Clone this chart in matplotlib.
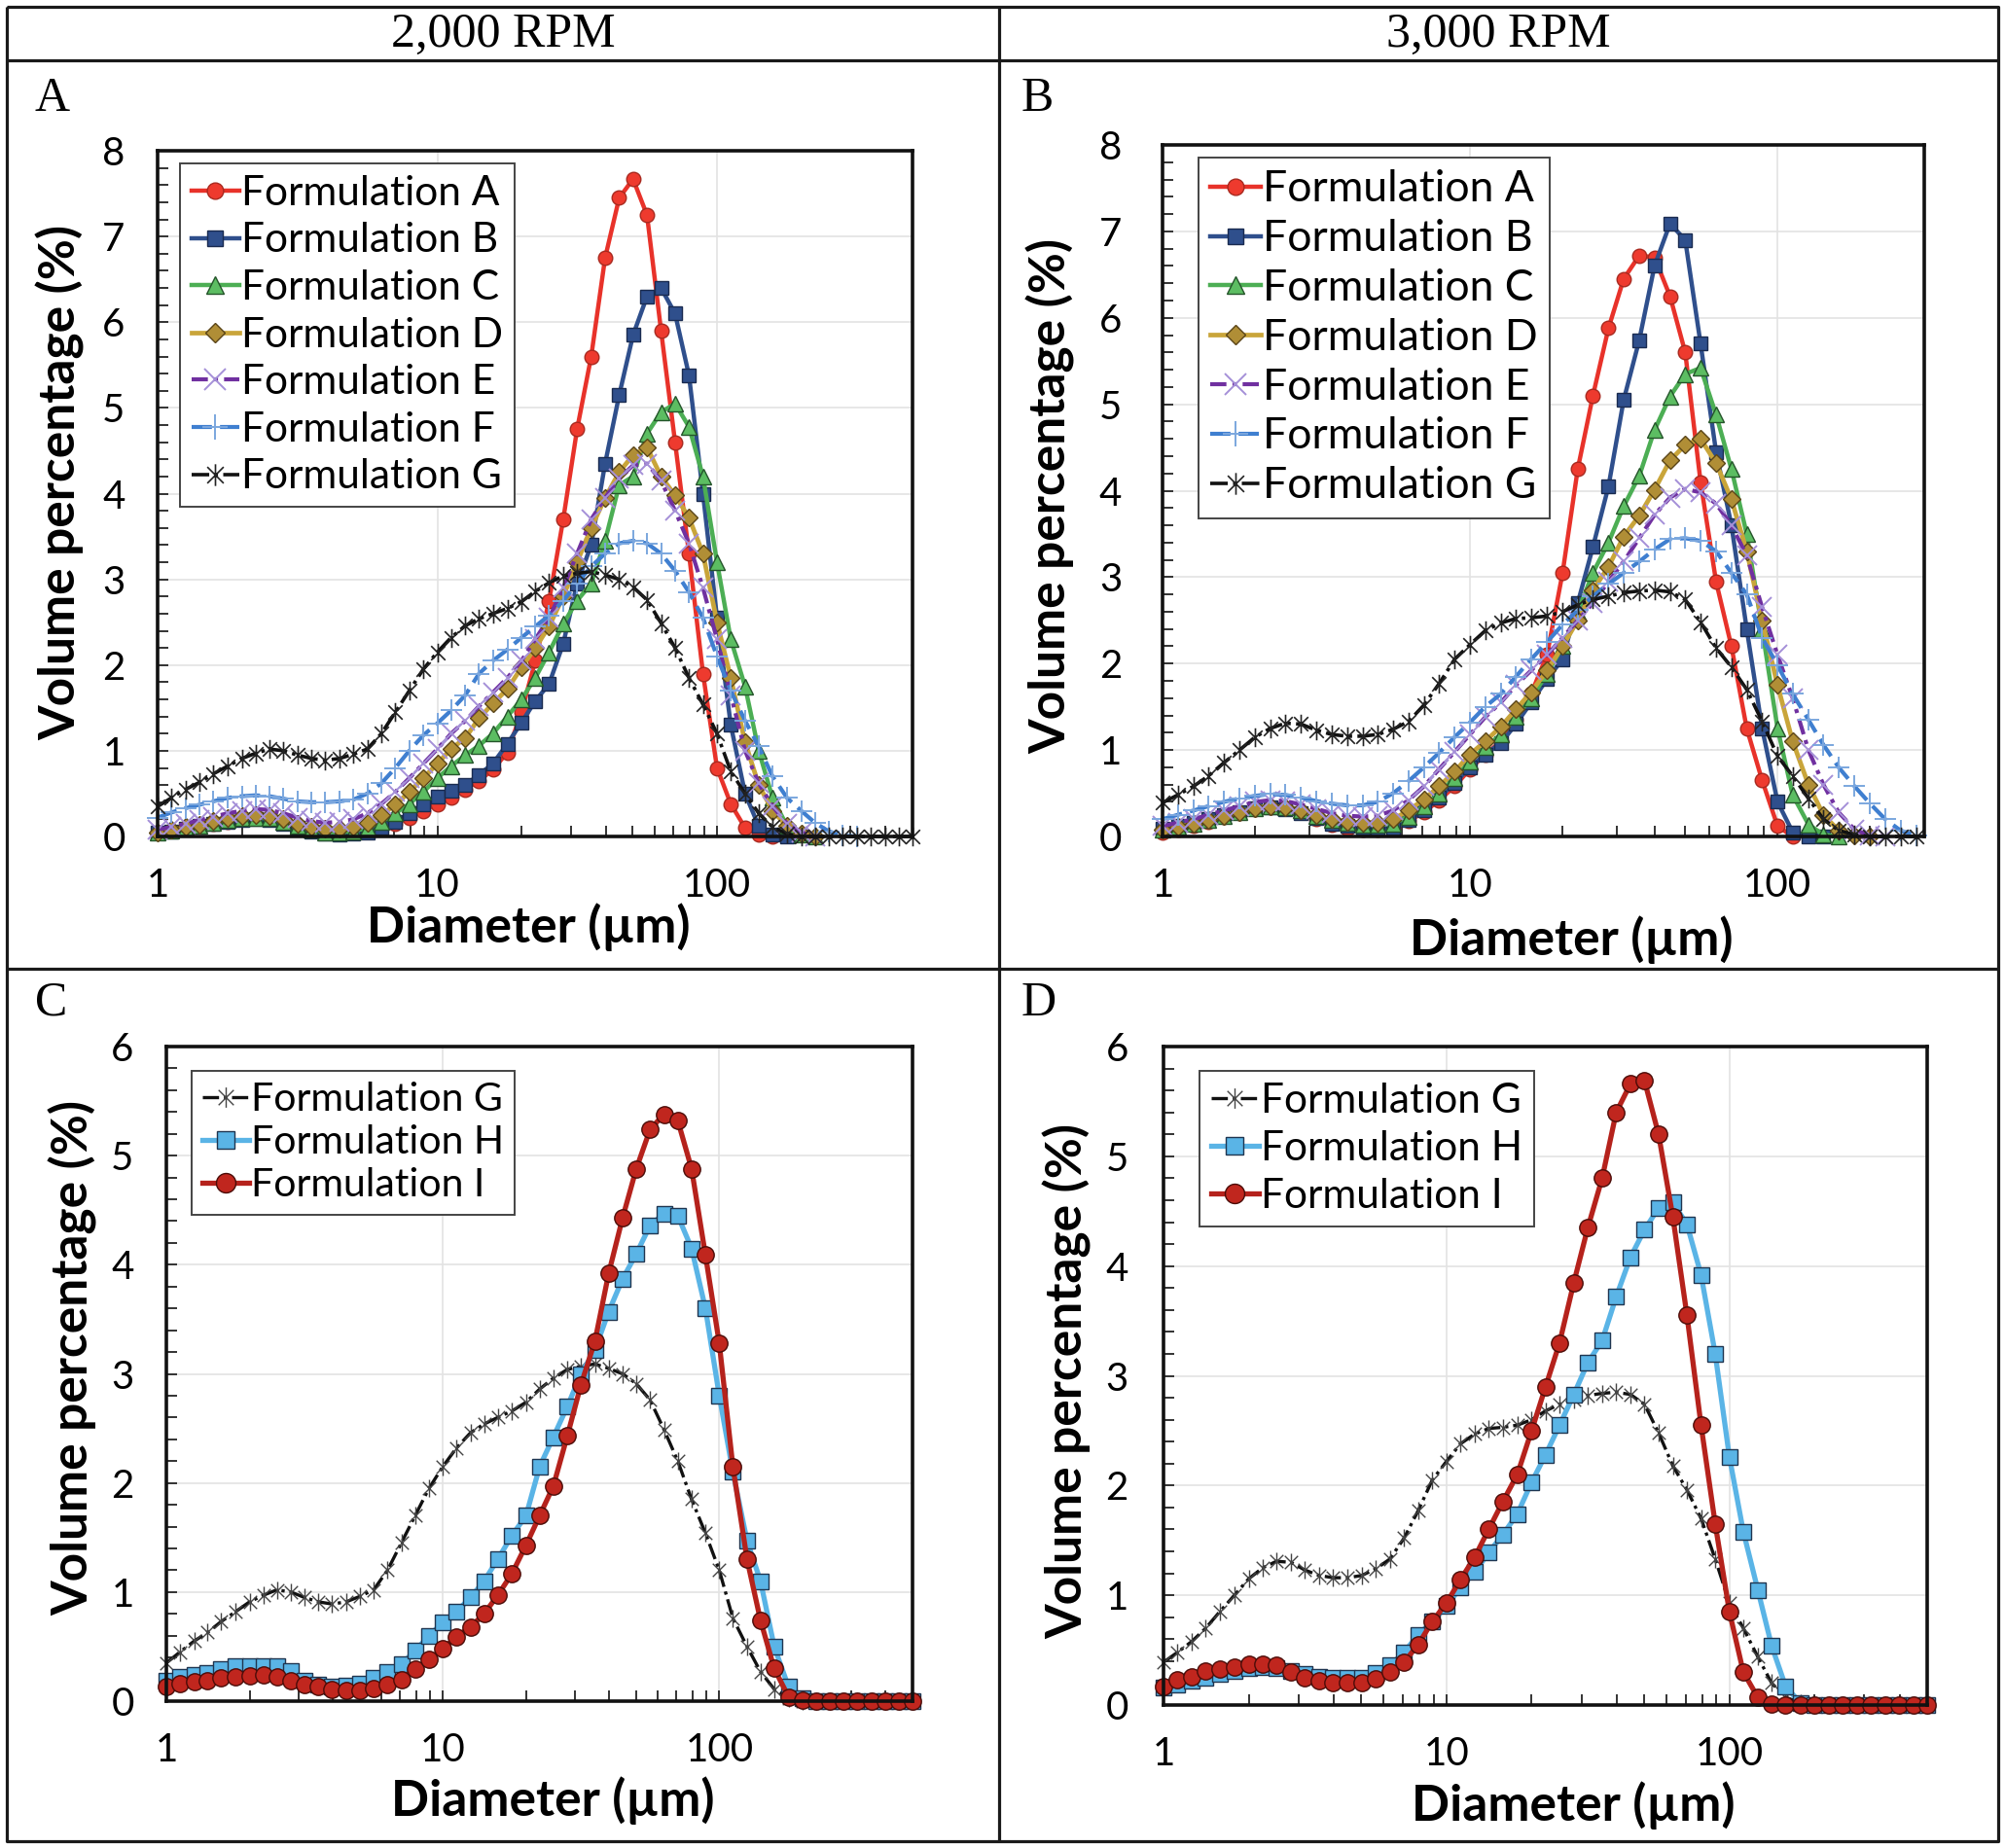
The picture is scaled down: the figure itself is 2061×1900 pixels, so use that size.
import numpy as np
import matplotlib
matplotlib.use("Agg")
import matplotlib.pyplot as plt
from matplotlib.path import Path
from matplotlib.ticker import FixedLocator, MultipleLocator, LogLocator, NullFormatter, FuncFormatter

# particle diameter bins (um)
X = [1.0, 1.12, 1.26, 1.41, 1.58, 1.78, 2.0, 2.24, 2.51, 2.82,
     3.16, 3.55, 3.98, 4.47, 5.01, 5.62, 6.31, 7.08, 7.94, 8.91,
     10.0, 11.2, 12.6, 14.1, 15.8, 17.8, 20.0, 22.4, 25.1, 28.2,
     31.6, 35.5, 39.8, 44.7, 50.1, 56.2, 63.1, 70.8, 79.4, 89.1,
     100, 112, 126, 141, 158, 178, 200, 224, 251, 282,
     316, 355, 398, 447, 501]

# 2,000 RPM, volume percentage (%)
a2_A = [0.05, 0.07, 0.10, 0.12, 0.15, 0.17, 0.20, 0.21, 0.20, 0.17,
        0.12, 0.08, 0.05, 0.04, 0.04, 0.06, 0.10, 0.15, 0.22, 0.30,
        0.38, 0.45, 0.55, 0.65, 0.78, 0.98, 1.45, 2.05, 2.75, 3.70,
        4.75, 5.60, 6.75, 7.45, 7.67, 7.25, 5.90, 4.60, 3.30, 1.90,
        0.80, 0.38, 0.10, 0.02, 0.00]
a2_B = [0.04, 0.06, 0.09, 0.12, 0.15, 0.17, 0.19, 0.20, 0.19, 0.15,
        0.10, 0.06, 0.03, 0.02, 0.03, 0.05, 0.10, 0.17, 0.27, 0.38,
        0.47, 0.53, 0.60, 0.72, 0.85, 1.08, 1.33, 1.58, 1.78, 2.25,
        2.95, 3.40, 4.35, 5.15, 5.85, 6.30, 6.40, 6.10, 5.38, 4.00,
        2.55, 1.30, 0.50, 0.12, 0.02, 0.00]
a2_C = [0.05, 0.07, 0.10, 0.13, 0.16, 0.19, 0.21, 0.22, 0.21, 0.17,
        0.12, 0.08, 0.05, 0.05, 0.06, 0.10, 0.17, 0.27, 0.38, 0.52,
        0.68, 0.82, 0.95, 1.06, 1.20, 1.40, 1.60, 1.85, 2.15, 2.48,
        2.75, 2.95, 3.45, 4.10, 4.20, 4.70, 4.95, 5.05, 4.78, 4.20,
        3.20, 2.30, 1.75, 1.00, 0.45, 0.12, 0.02, 0.00]
a2_D = [0.05, 0.08, 0.11, 0.14, 0.18, 0.21, 0.24, 0.25, 0.24, 0.20,
        0.15, 0.11, 0.09, 0.09, 0.11, 0.16, 0.25, 0.37, 0.52, 0.68,
        0.85, 1.02, 1.15, 1.38, 1.55, 1.72, 1.97, 2.20, 2.45, 2.80,
        3.20, 3.60, 3.95, 4.25, 4.45, 4.54, 4.20, 3.98, 3.72, 3.30,
        2.50, 1.85, 1.10, 0.60, 0.30, 0.12, 0.03, 0.00]
a2_E = [0.08, 0.11, 0.15, 0.19, 0.23, 0.27, 0.30, 0.32, 0.31, 0.27,
        0.22, 0.18, 0.16, 0.17, 0.20, 0.27, 0.38, 0.52, 0.68, 0.85,
        1.02, 1.20, 1.35, 1.52, 1.68, 1.85, 2.05, 2.30, 2.55, 2.90,
        3.30, 3.70, 3.95, 4.18, 4.33, 4.35, 4.15, 3.80, 3.42, 2.90,
        2.30, 1.65, 1.00, 0.62, 0.35, 0.15, 0.05, 0.00]
a2_F = [0.22, 0.28, 0.33, 0.37, 0.41, 0.45, 0.47, 0.48, 0.47, 0.44,
        0.41, 0.40, 0.40, 0.41, 0.43, 0.50, 0.62, 0.80, 1.00, 1.18,
        1.32, 1.47, 1.65, 1.90, 2.05, 2.18, 2.32, 2.45, 2.58, 2.75,
        2.95, 3.15, 3.30, 3.42, 3.45, 3.42, 3.30, 3.10, 2.85, 2.55,
        2.10, 1.70, 1.35, 1.05, 0.70, 0.45, 0.30, 0.16, 0.06, 0.01,
        0.00]
g2 = [0.35, 0.45, 0.55, 0.63, 0.73, 0.82, 0.91, 0.97, 1.02, 1.00,
      0.95, 0.91, 0.89, 0.91, 0.96, 1.02, 1.20, 1.45, 1.70, 1.95,
      2.15, 2.32, 2.46, 2.54, 2.60, 2.66, 2.74, 2.86, 2.96, 3.04,
      3.07, 3.09, 3.05, 3.00, 2.91, 2.76, 2.49, 2.20, 1.85, 1.54,
      1.20, 0.76, 0.50, 0.27, 0.11, 0.03, 0.00, 0.00, 0.00, 0.00,
      0.00, 0.00, 0.00, 0.00, 0.00]
h2 = [0.19, 0.22, 0.24, 0.26, 0.29, 0.32, 0.32, 0.32, 0.32, 0.28,
      0.19, 0.15, 0.13, 0.14, 0.16, 0.21, 0.27, 0.34, 0.46, 0.60,
      0.72, 0.82, 0.95, 1.10, 1.30, 1.52, 1.70, 2.15, 2.42, 2.70,
      3.00, 3.22, 3.57, 3.87, 4.10, 4.36, 4.47, 4.45, 4.15, 3.60,
      2.80, 2.10, 1.47, 1.10, 0.50, 0.13, 0.03, 0.00, 0.00, 0.00,
      0.00, 0.00, 0.00, 0.00, 0.00]
i2 = [0.13, 0.16, 0.18, 0.19, 0.21, 0.22, 0.23, 0.24, 0.22, 0.19,
      0.15, 0.13, 0.11, 0.10, 0.10, 0.12, 0.15, 0.20, 0.29, 0.38,
      0.48, 0.59, 0.68, 0.80, 0.97, 1.17, 1.43, 1.70, 1.97, 2.43,
      2.90, 3.30, 3.92, 4.43, 4.88, 5.24, 5.38, 5.32, 4.88, 4.09,
      3.28, 2.15, 1.30, 0.74, 0.30, 0.04, 0.01, 0.00, 0.00, 0.00,
      0.00, 0.00, 0.00, 0.00, 0.00]

# 3,000 RPM
a3_A = [0.05, 0.08, 0.12, 0.17, 0.22, 0.27, 0.32, 0.34, 0.33, 0.28,
        0.20, 0.13, 0.09, 0.08, 0.08, 0.10, 0.18, 0.28, 0.42, 0.58,
        0.78, 0.95, 1.10, 1.35, 1.65, 2.10, 3.05, 4.25, 5.10, 5.88,
        6.45, 6.72, 6.70, 6.25, 5.60, 4.10, 2.95, 2.20, 1.25, 0.65,
        0.12, 0.00]
a3_B = [0.09, 0.12, 0.16, 0.20, 0.25, 0.28, 0.33, 0.34, 0.32, 0.27,
        0.21, 0.15, 0.12, 0.10, 0.09, 0.09, 0.19, 0.30, 0.45, 0.62,
        0.80, 0.95, 1.08, 1.30, 1.55, 1.82, 2.05, 2.70, 3.35, 4.05,
        5.05, 5.74, 6.60, 7.09, 6.90, 5.70, 4.45, 3.60, 2.40, 1.25,
        0.40, 0.05, 0.00, 0.00]
a3_C = [0.08, 0.11, 0.15, 0.19, 0.24, 0.28, 0.33, 0.35, 0.34, 0.30,
        0.24, 0.19, 0.16, 0.14, 0.13, 0.15, 0.23, 0.35, 0.50, 0.68,
        0.87, 1.03, 1.18, 1.38, 1.60, 1.88, 2.20, 2.60, 3.05, 3.40,
        3.82, 4.17, 4.70, 5.09, 5.35, 5.42, 4.88, 4.25, 3.50, 2.40,
        1.25, 0.48, 0.14, 0.02, 0.00]
a3_D = [0.08, 0.11, 0.15, 0.19, 0.24, 0.28, 0.33, 0.35, 0.34, 0.30,
        0.25, 0.20, 0.17, 0.16, 0.16, 0.20, 0.30, 0.43, 0.58, 0.75,
        0.95, 1.10, 1.27, 1.47, 1.67, 1.92, 2.20, 2.50, 2.85, 3.12,
        3.47, 3.71, 4.01, 4.35, 4.53, 4.60, 4.32, 3.90, 3.30, 2.50,
        1.75, 1.10, 0.60, 0.25, 0.07, 0.01, 0.00]
a3_E = [0.12, 0.16, 0.20, 0.25, 0.30, 0.35, 0.40, 0.42, 0.41, 0.37,
        0.32, 0.27, 0.24, 0.23, 0.24, 0.30, 0.42, 0.58, 0.78, 0.98,
        1.18, 1.38, 1.55, 1.75, 1.92, 2.10, 2.30, 2.50, 2.70, 2.95,
        3.18, 3.45, 3.72, 3.92, 4.02, 3.98, 3.85, 3.60, 3.25, 2.65,
        2.10, 1.60, 1.00, 0.60, 0.28, 0.08, 0.01, 0.00]
a3_F = [0.20, 0.25, 0.30, 0.35, 0.40, 0.44, 0.47, 0.49, 0.48, 0.45,
        0.41, 0.38, 0.36, 0.36, 0.40, 0.50, 0.64, 0.80, 0.97, 1.15,
        1.32, 1.50, 1.65, 1.85, 2.05, 2.25, 2.45, 2.62, 2.78, 2.92,
        3.05, 3.18, 3.32, 3.44, 3.45, 3.42, 3.30, 3.05, 2.80, 2.30,
        1.98, 1.65, 1.35, 1.06, 0.80, 0.58, 0.38, 0.20, 0.07, 0.01]
g3 = [0.39, 0.48, 0.58, 0.70, 0.85, 1.00, 1.15, 1.25, 1.31, 1.30,
      1.23, 1.18, 1.16, 1.16, 1.18, 1.24, 1.33, 1.52, 1.77, 2.05,
      2.22, 2.38, 2.47, 2.52, 2.53, 2.55, 2.60, 2.68, 2.74, 2.78,
      2.82, 2.84, 2.85, 2.83, 2.74, 2.48, 2.18, 1.96, 1.70, 1.33,
      0.93, 0.70, 0.44, 0.20, 0.07, 0.02, 0.00, 0.00, 0.00, 0.00,
      0.00, 0.00, 0.00, 0.00, 0.00]
h3 = [0.16, 0.19, 0.22, 0.25, 0.28, 0.31, 0.34, 0.35, 0.34, 0.31,
      0.28, 0.26, 0.25, 0.25, 0.25, 0.29, 0.36, 0.48, 0.64, 0.76,
      0.90, 1.07, 1.21, 1.39, 1.55, 1.74, 2.03, 2.28, 2.55, 2.83,
      3.12, 3.32, 3.72, 4.08, 4.33, 4.53, 4.58, 4.38, 3.92, 3.20,
      2.26, 1.58, 1.05, 0.54, 0.17, 0.02, 0.00, 0.00, 0.00, 0.00,
      0.00, 0.00, 0.00, 0.00, 0.00]
i3 = [0.17, 0.23, 0.26, 0.31, 0.33, 0.35, 0.37, 0.37, 0.36, 0.30,
      0.25, 0.22, 0.20, 0.20, 0.20, 0.24, 0.30, 0.39, 0.55, 0.76,
      0.93, 1.14, 1.35, 1.60, 1.85, 2.10, 2.50, 2.90, 3.30, 3.85,
      4.35, 4.80, 5.40, 5.66, 5.69, 5.20, 4.45, 3.55, 2.55, 1.65,
      0.85, 0.30, 0.07, 0.01, 0.00, 0.00, 0.00, 0.00, 0.00, 0.00,
      0.00, 0.00, 0.00, 0.00, 0.00]

# excel style asterisk marker: an X with a vertical bar
ASTER = Path([(0, -1), (0, 1), (-0.75, -0.75), (0.75, 0.75), (-0.75, 0.75), (0.75, -0.75)],
             [Path.MOVETO, Path.LINETO] * 3)

STYLE = {
    "A": dict(color="#e8322a", ls="-", lw=3.2, marker="o", ms=10.5, mfc="#ee3a2e", mec="#a82a20", mew=1.0),
    "B": dict(color="#2f4f8c", ls="-", lw=3.2, marker="s", ms=10, mfc="#2f4f8c", mec="#1a2b50", mew=1.0),
    "C": dict(color="#4cae54", ls="-", lw=3.2, marker="^", ms=11.5, mfc="#5cbd62", mec="#24542a", mew=1.0),
    "D": dict(color="#c9a53a", ls="-", lw=3.4, marker="D", ms=9, mfc="#b08e36", mec="#5a4518", mew=1.0),
    "E": dict(color="#7030a0", ls=(0, (4, 1.5, 1, 1.5)), lw=3.0, marker="x", ms=14, mec="#a590d8", mew=1.4),
    "F": dict(color="#3f7fd0", ls=(0, (5, 2)), lw=3.0, marker="+", ms=16, mec="#7ba7de", mew=1.4),
    "G": dict(color="#111111", ls=(0, (5, 1.5, 1, 1.5)), lw=2.6, marker=ASTER, ms=14, mec="#222222", mew=1.2),
}
STYLE_CD = {
    "G": dict(color="#111111", ls=(0, (5, 1.5, 1, 1.5)), lw=2.4, marker=ASTER, ms=13, mec="#444444", mew=1.0),
    "H": dict(color="#5ab4e6", ls="-", lw=3.8, marker="s", ms=11.5, mfc="#5ab4e6", mec="#1f3550", mew=1.0),
    "I": dict(color="#b5221c", ls="-", lw=3.8, marker="o", ms=12.5, mfc="#c0261e", mec="#4a0c08", mew=1.0),
}

W, H = 2061, 1900
plt.rcParams["font.family"] = ["Lato", "DejaVu Sans"]
fig = plt.figure(figsize=(W / 100, H / 100), dpi=100)

# table grid behind everything
bg = fig.add_axes([0, 0, 1, 1])
bg.set_xlim(0, W)
bg.set_ylim(H, 0)
bg.axis("off")
lc = dict(color="#1a1a1a", lw=2.3, solid_capstyle="butt")
bg.plot([7, 2054, 2054, 7, 7], [7, 7, 1893, 1893, 7], **lc)
bg.plot([7, 2054], [62, 62], **lc)
bg.plot([7, 2054], [996, 996], **lc)
bg.plot([1027, 1027], [7, 1893], **lc)
serif = dict(family="Liberation Serif", size=36)
bg.text(517, 36, "2,000 RPM", ha="center", va="center", **serif)
bg.text(1540, 36, "3,000 RPM", ha="center", va="center", **serif)
for letter, x, y in [("A", 36, 114), ("B", 1050, 114), ("C", 36, 1044), ("D", 1050, 1044)]:
    bg.text(x, y, letter, ha="left", va="baseline", **serif)


def panel(box, series, styles, xmax, ymax, leg_xy, xlab_xy, ylab_xy, ypad, fs_leg, spacing):
    l, t, r, b = box
    ax = fig.add_axes([l / W, 1 - b / H, (r - l) / W, (b - t) / H])
    for name, y in series:
        xs = np.array(X[:len(y)])
        ys = np.array(y)
        keep = xs <= xmax * 1.01
        ax.plot(xs[keep], ys[keep], label="Formulation " + name, clip_on=False, **styles[name])
    ax.set_xscale("log")
    ax.set_xlim(1, xmax)
    ax.set_ylim(0, ymax)
    ax.xaxis.set_major_locator(FixedLocator([1, 10, 100]))
    ax.xaxis.set_major_formatter(FuncFormatter(lambda v, p: f"{v:g}"))
    ax.xaxis.set_minor_locator(LogLocator(subs=np.arange(2, 10)))
    ax.xaxis.set_minor_formatter(NullFormatter())
    ax.yaxis.set_major_locator(MultipleLocator(1))
    ax.yaxis.set_minor_locator(MultipleLocator(0.2))
    ax.tick_params(which="both", direction="in", length=8, width=1.4, color="#333333",
                   labelsize=29, top=False, right=False)
    ax.tick_params(axis="x", which="major", pad=23)
    ax.tick_params(axis="y", which="major", pad=ypad)
    ax.grid(True, which="major", color="#e3e3e3", lw=1.2)
    ax.set_axisbelow(True)
    for s in ax.spines.values():
        s.set_linewidth(2.6)
        s.set_color("#111111")
    lx, ly = leg_xy
    leg = ax.legend(loc="upper left", bbox_to_anchor=((lx - l) / (r - l), 1 - (ly - t) / (b - t)),
                    borderaxespad=0, fancybox=False, framealpha=1, edgecolor="#444444",
                    prop=dict(family="Lato", size=fs_leg), handlelength=1.15, handletextpad=0.05,
                    labelspacing=spacing, borderpad=0.28, markerscale=1.15)
    leg.get_frame().set_linewidth(1.4)
    bg.text(xlab_xy[0], xlab_xy[1], "Diameter (µm)", ha="center", va="center",
            fontsize=37, fontweight="bold")
    bg.text(ylab_xy[0], ylab_xy[1], "Volume percentage (%)", ha="center", va="center",
            rotation=90, fontsize=37, fontweight="bold")
    return ax


panel((162, 155, 938, 860),
      [("A", a2_A), ("B", a2_B), ("C", a2_C), ("D", a2_D), ("E", a2_E), ("F", a2_F), ("G", g2)],
      STYLE, 500, 8, (185, 168), (543, 953), (62, 496), 24, 30.5, 0.25)
panel((1195, 149, 1978, 860),
      [("A", a3_A), ("B", a3_B), ("C", a3_C), ("D", a3_D), ("E", a3_E), ("F", a3_F), ("G", g3)],
      STYLE, 300, 8, (1232, 162), (1615, 966), (1080, 510), 30, 32, 0.22)
panel((171, 1076, 938, 1749), [("G", g2), ("H", h2), ("I", i2)],
      STYLE_CD, 500, 6, (197, 1101), (568, 1851), (75, 1396), 24, 29.5, 0.17)
panel((1196, 1076, 1981, 1753), [("G", g3), ("H", h3), ("I", i3)],
      STYLE_CD, 500, 6, (1233, 1101), (1617, 1856), (1097, 1420), 26, 30.5, 0.26)

fig.savefig("out.png", dpi=100)
